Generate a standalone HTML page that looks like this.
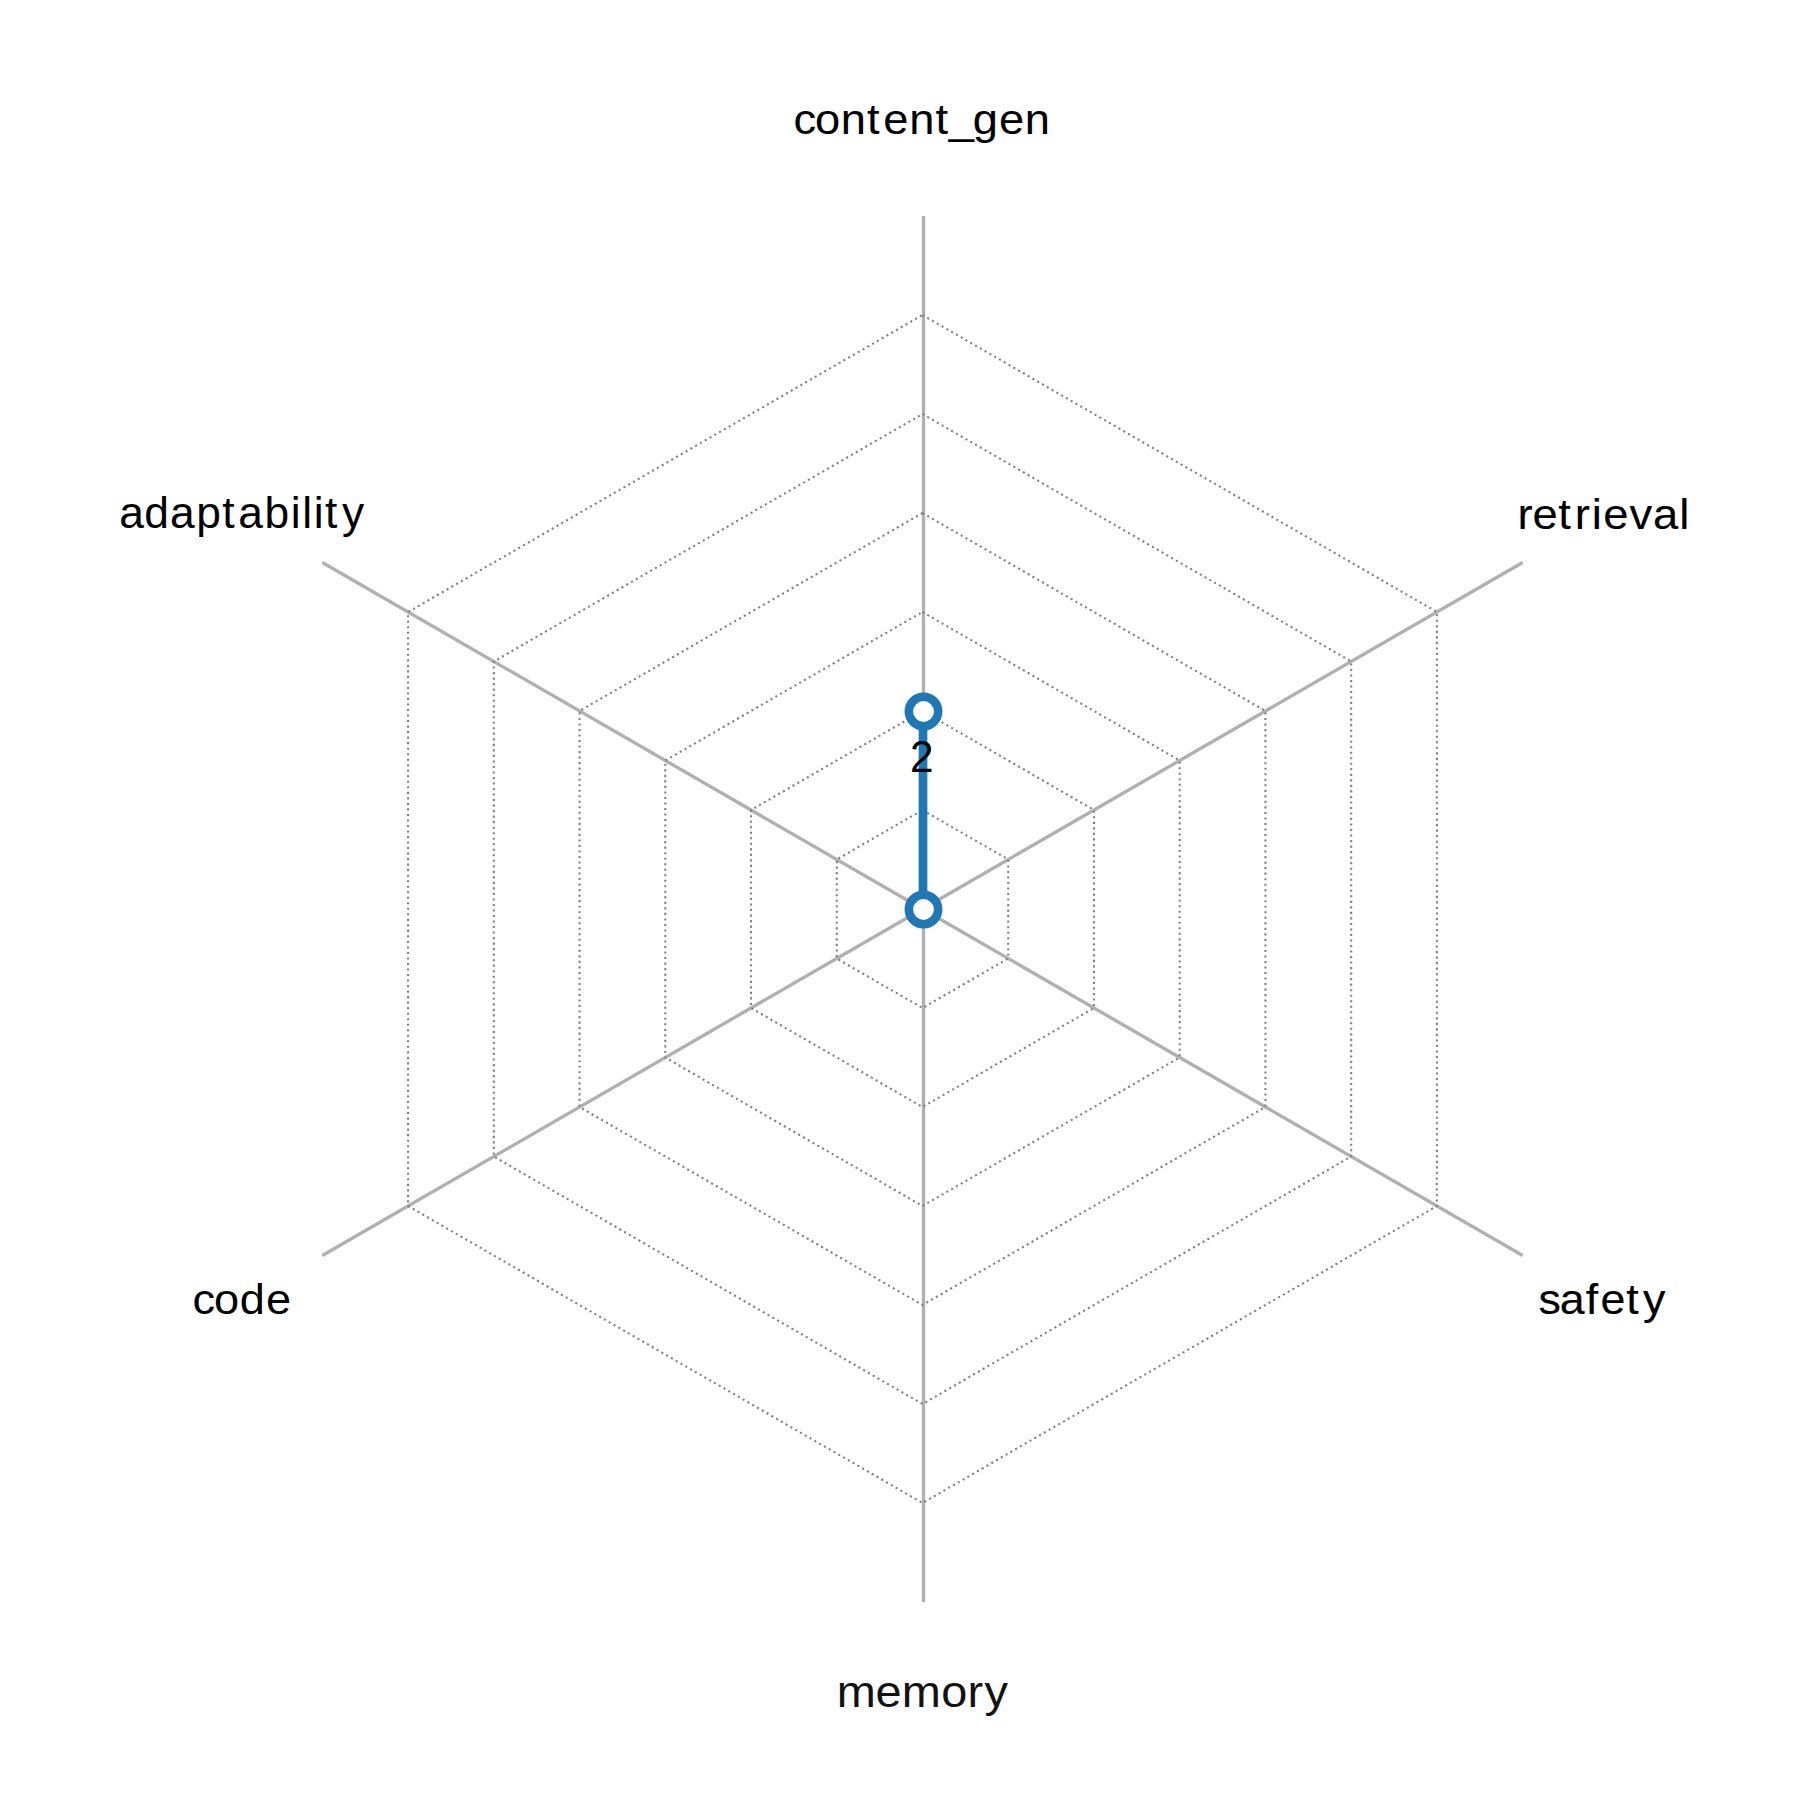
<!DOCTYPE html>
<html><head><meta charset="utf-8"><title>Radar chart</title><style>
html,body{margin:0;padding:0;background:#fff;width:1800px;height:1800px;overflow:hidden;}
svg{display:block;}
text{font-family:"Liberation Sans",sans-serif;fill:#000;}
</style></head><body>
<svg width="1800" height="1800" viewBox="0 0 1800 1800">
<rect width="1800" height="1800" fill="#fff"/>
<line x1="923.5" y1="909" x2="923.5" y2="216" stroke="#b0b0b0" stroke-width="3.33"/>
<line x1="922.500" y1="909.000" x2="1522.656" y2="562.500" stroke="#b0b0b0" stroke-width="3.33"/>
<line x1="922.500" y1="909.000" x2="1522.656" y2="1255.500" stroke="#b0b0b0" stroke-width="3.33"/>
<line x1="923.5" y1="909" x2="923.5" y2="1602" stroke="#b0b0b0" stroke-width="3.33"/>
<line x1="922.500" y1="909.000" x2="322.344" y2="1255.500" stroke="#b0b0b0" stroke-width="3.33"/>
<line x1="922.500" y1="909.000" x2="322.344" y2="562.500" stroke="#b0b0b0" stroke-width="3.33"/>
<path d="M922.500,810.000 L1008.237,859.500 L1008.237,958.500 L922.500,1008.000 L836.763,958.500 L836.763,859.500 L922.500,810.000" fill="none" stroke="#808080" stroke-width="2.083" stroke-dasharray="2.083 3.438"/>
<path d="M922.500,711.000 L1093.973,810.000 L1093.973,1008.000 L922.500,1107.000 L751.027,1008.000 L751.027,810.000 L922.500,711.000" fill="none" stroke="#808080" stroke-width="2.083" stroke-dasharray="2.083 3.438"/>
<path d="M922.500,612.000 L1179.710,760.500 L1179.710,1057.500 L922.500,1206.000 L665.290,1057.500 L665.290,760.500 L922.500,612.000" fill="none" stroke="#808080" stroke-width="2.083" stroke-dasharray="2.083 3.438"/>
<path d="M922.500,513.000 L1265.446,711.000 L1265.446,1107.000 L922.500,1305.000 L579.554,1107.000 L579.554,711.000 L922.500,513.000" fill="none" stroke="#808080" stroke-width="2.083" stroke-dasharray="2.083 3.438"/>
<path d="M922.500,414.000 L1351.183,661.500 L1351.183,1156.500 L922.500,1404.000 L493.817,1156.500 L493.817,661.500 L922.500,414.000" fill="none" stroke="#808080" stroke-width="2.083" stroke-dasharray="2.083 3.438"/>
<path d="M922.500,315.000 L1436.919,612.000 L1436.919,1206.000 L922.500,1503.000 L408.081,1206.000 L408.081,612.000 L922.500,315.000" fill="none" stroke="#808080" stroke-width="2.083" stroke-dasharray="2.083 3.438"/>
<line x1="923" y1="909" x2="923" y2="711" stroke="#1f77b4" stroke-width="8.7"/>
<circle cx="923.5" cy="909.5" r="14.68" fill="#fff" stroke="#1f77b4" stroke-width="8.53"/>
<circle cx="923.5" cy="711.5" r="14.68" fill="#fff" stroke="#1f77b4" stroke-width="8.53"/>
<text x="745.02 765.36 789.45 814.04 829.46 853.66 878.48 890.94 913.35 938.03 962.22" y="134.00" font-size="42.500" transform="scale(1.0650,1)" stroke="#000" stroke-width="0.050">content_gen</text>
<text x="1405.10 1419.00 1442.93 1458.11 1473.97 1484.39 1508.77 1530.47 1554.97" y="529.00" font-size="42.062" transform="scale(1.0800,1)" stroke="#000" stroke-width="0.100">retrieval</text>
<text x="1479.22 1499.67 1524.83 1538.83 1563.60 1579.86" y="1314.00" font-size="43.062" transform="scale(1.0400,1)" stroke="#000" stroke-width="0.150">safety</text>
<text x="794.95 831.76 856.82 894.21 919.28 935.42" y="1707.00" font-size="44.562" transform="scale(1.0525,1)" style="fill:#121212">memory</text>
<text x="184.57 205.35 229.91 255.13" y="1314.00" font-size="43.312" transform="scale(1.0425,1)">code</text>
<text x="117.00 141.32 166.64 192.42 217.79 233.55 259.33 285.18 296.43 307.73 318.52 335.39" y="528.00" font-size="43.500" transform="scale(1.0200,1)" style="fill:#010101">adaptability</text>
<text x="947.83" y="772.00" font-size="44.125" transform="scale(0.9600,1)" style="fill:#020202">2</text>
</svg>
</body></html>
